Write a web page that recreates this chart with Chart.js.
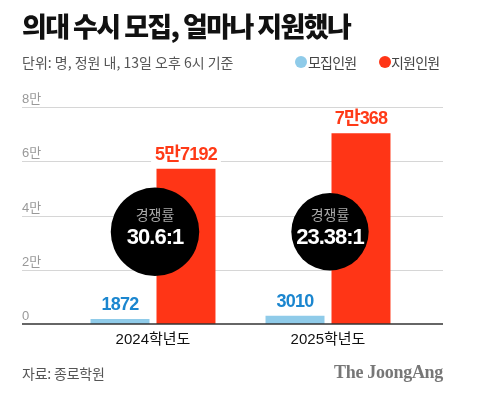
<!DOCTYPE html>
<html>
<head>
<meta charset="utf-8">
<script src="https://cdn.jsdelivr.net/npm/chart.js@4.4.1/dist/chart.umd.min.js"></script>
<style>
  body { margin: 0; background: #fff; font-family: "Noto Sans CJK KR", sans-serif; }
  #wrap { position: relative; width: 481px; height: 396px; overflow: hidden; }
  #chart { position: absolute; left: 0; top: 0; }
  .txt { position: absolute; white-space: nowrap; }
  .title { left: 22px; top: 7px; font-size: 27px; font-weight: 900; letter-spacing: -1.6px; color: #111; line-height: 38px; }
  .sub { left: 22px; top: 51px; font-size: 14px; color: #555; letter-spacing: 0px; line-height: 22px; }
  .dot { position: absolute; top: 56px; width: 12px; height: 12px; border-radius: 50%; }
  .leg { top: 51px; font-size: 14px; color: #444; letter-spacing: -0.8px; line-height: 22px; }
  .src { left: 22px; top: 362px; font-size: 14px; color: #555; letter-spacing: -0.2px; line-height: 22px; }
  .logo { right: 38px; top: 361px; font-family: "Liberation Serif", serif; font-weight: bold; font-size: 18px; color: #777; line-height: 22px; letter-spacing: -0.3px; }
</style>
</head>
<body>
<div id="wrap">
  <canvas id="chart" width="481" height="396"></canvas>
  <div class="txt title">의대 수시 모집, 얼마나 지원했나</div>
  <div class="txt sub">단위: 명, 정원 내, 13일 오후 6시 기준</div>
  <div class="dot" style="left:295px;background:#8fcbe9"></div>
  <div class="txt leg" style="left:308px">모집인원</div>
  <div class="dot" style="left:379px;background:#ff3516"></div>
  <div class="txt leg" style="left:391px">지원인원</div>
  <div class="txt src">자료: 종로학원</div>
  <div class="txt logo">The JoongAng</div>
</div>
<script>
// data
const categories = ['2024학년도', '2025학년도'];
const recruited = [1872, 3010];     // 모집인원
const applied = [57192, 70368];     // 지원인원
const ratios = [30.6, 23.38];       // 경쟁률 (x:1)
const yTicks = [0, 20000, 40000, 60000, 80000];
const yTickLabels = ['0', '2만', '4만', '6만', '8만'];

const barColors = ['#8fcbe9', '#ff3516'];
const labelColors = ['#1b86cf', '#ff3a17'];

Chart.defaults.font.family = '"Liberation Sans", "Noto Sans CJK KR", sans-serif';

// 57192 -> "5만7192"
function fmt(v) {
  if (v < 10000) return String(v);
  return Math.floor(v / 10000) + '만' + (v % 10000);
}

const decor = {
  id: 'decor',
  beforeDatasetsDraw(chart) {
    const ctx = chart.ctx, y = chart.scales.y;
    ctx.save();
    yTicks.forEach((v, i) => {
      const py = Math.round(y.getPixelForValue(v)) + 0.5;
      if (v !== 0) {
        ctx.strokeStyle = '#d6d6d6';
        ctx.lineWidth = 1;
        ctx.beginPath();
        ctx.moveTo(22, py);
        ctx.lineTo(443, py);
        ctx.stroke();
      }
      ctx.fillStyle = '#999';
      ctx.font = '13px "Liberation Sans", "Noto Sans CJK KR"';
      ctx.textAlign = 'left';
      ctx.textBaseline = 'bottom';
      ctx.fillText(yTickLabels[i], 22, py - 2);
    });
    ctx.restore();
  },
  afterDatasetsDraw(chart) {
    const ctx = chart.ctx, x = chart.scales.x, y = chart.scales.y;
    ctx.save();
    // baseline
    const by = y.getPixelForValue(0);
    ctx.strokeStyle = '#333';
    ctx.lineWidth = 1.5;
    ctx.beginPath();
    ctx.moveTo(22, by);
    ctx.lineTo(443, by);
    ctx.stroke();

    // value labels
    ctx.letterSpacing = '-0.8px';
    chart.data.datasets.forEach((ds, di) => {
      chart.getDatasetMeta(di).data.forEach((bar, i) => {
        const txt = fmt(ds.data[i]);
        ctx.font = 'bold 18px "Liberation Sans", "Noto Sans CJK KR"';
        const w = ctx.measureText(txt).width;
        const ty = bar.y - 14;
        ctx.fillStyle = '#fff';
        ctx.fillRect(bar.x - w / 2 - 4, ty - 11, w + 8, 22);
        ctx.fillStyle = labelColors[di];
        ctx.textAlign = 'center';
        ctx.textBaseline = 'middle';
        ctx.fillText(txt, bar.x, ty);
      });
    });

    // ratio circles, area ~ ratio
    ratios.forEach((r, i) => {
      const cx = x.getPixelForValue(i) + 2;
      const cy = y.getPixelForValue(34000);
      const rad = 8 * Math.sqrt(r);
      ctx.fillStyle = '#000';
      ctx.beginPath();
      ctx.arc(cx, cy, rad, 0, Math.PI * 2);
      ctx.fill();
      ctx.textAlign = 'center';
      ctx.textBaseline = 'middle';
      ctx.letterSpacing = '0px';
      ctx.fillStyle = '#aaa';
      ctx.font = '14px "Noto Sans CJK KR"';
      ctx.fillText('경쟁률', cx, cy - 17);
      ctx.letterSpacing = '-1px';
      ctx.fillStyle = '#fff';
      ctx.font = 'bold 22px "Liberation Sans", "Noto Sans CJK KR"';
      ctx.fillText(r + ':1', cx, cy + 6);
    });
    ctx.restore();
  }
};

new Chart(document.getElementById('chart'), {
  type: 'bar',
  data: {
    labels: categories,
    datasets: [
      { label: '모집인원', data: recruited, backgroundColor: barColors[0], borderWidth: 0,
        barPercentage: 0.894, categoryPercentage: 0.754 },
      { label: '지원인원', data: applied, backgroundColor: barColors[1], borderWidth: 0,
        barPercentage: 0.894, categoryPercentage: 0.754 }
    ]
  },
  options: {
    responsive: false,
    animation: false,
    layout: { padding: { top: 107, bottom: 40, left: 65.5, right: 65.5 } },
    plugins: {
      legend: { display: false },
      tooltip: { enabled: false }
    },
    scales: {
      x: {
        grid: { display: false, drawTicks: false },
        border: { display: false },
        ticks: { color: '#111', font: { size: 15 }, padding: 7 }
      },
      y: {
        display: false,
        min: 0,
        max: 80000,
        ticks: { stepSize: 20000 }
      }
    }
  },
  plugins: [decor]
});
</script>
</body>
</html>
